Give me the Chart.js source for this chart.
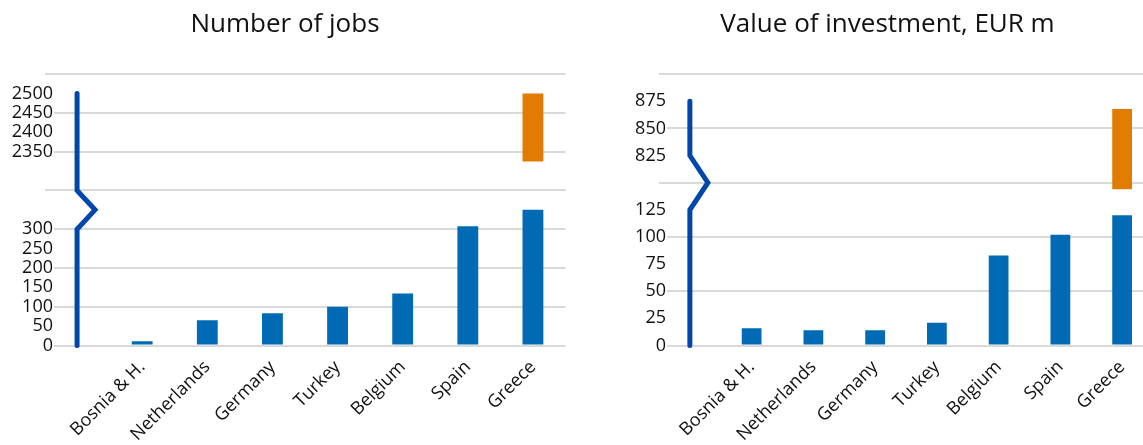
<!DOCTYPE html>
<html>
<head>
<meta charset="utf-8">
<script src="https://cdn.jsdelivr.net/npm/chart.js@4/dist/chart.umd.min.js"></script>
<style>
  html, body { margin: 0; padding: 0; background: #fff; overflow: hidden; }
  #jobs { position: absolute; left: 0; top: 0; }
  #invest { position: absolute; left: 600px; top: 0; }
</style>
</head>
<body>
<canvas id="jobs" width="580" height="470"></canvas>
<canvas id="invest" width="553" height="470"></canvas>
<script>
const countries = ['Bosnia & H.', 'Netherlands', 'Germany', 'Turkey', 'Belgium', 'Spain', 'Greece'];

// part of each bar below the axis break
const jobs = [11, 65, 83, 100, 134, 308, 350];
const investment = [16, 14, 14, 21, 83, 102, 120];

// part above the break (Greece only)
const jobsTop = [null, null, null, null, null, null, [2325, 2500]];
const investmentTop = [null, null, null, null, null, null, [794, 868]];

// tick labels that are shown
const jobsTicks = [0, 50, 100, 150, 200, 250, 300, 2350, 2400, 2450, 2500];
const investmentTicks = [0, 25, 50, 75, 100, 125, 825, 850, 875];

const FONT = "'Open Sans', sans-serif";
const BLUE = '#006ab4';
const ORANGE = '#e07c00';
const GRID = '#d9d9d9';

// zigzag axis line drawn at the empty first category
const brokenAxis = {
    id: 'brokenAxis',
    afterLayout(chart, args, opts) {
        // tick labels sit a little inside the plot area, over the grid lines
        chart.scales.y.right += opts.overhang;
        chart.scales.y2.right += opts.overhang;
    },
    afterDatasetsDraw(chart, args, opts) {
        const { ctx, scales } = chart;
        const x = scales.x.getPixelForValue(0);
        const lo = scales.y, hi = scales.y2;
        ctx.save();
        ctx.strokeStyle = '#0047ab';
        ctx.lineWidth = 5;
        ctx.lineCap = 'round';
        ctx.lineJoin = 'miter';
        ctx.beginPath();
        ctx.moveTo(x, hi.getPixelForValue(opts.top));
        ctx.lineTo(x, hi.getPixelForValue(opts.from));
        ctx.lineTo(x + 18, lo.getPixelForValue(opts.peak));
        ctx.lineTo(x, lo.getPixelForValue(opts.to));
        ctx.lineTo(x, lo.getPixelForValue(0));
        ctx.stroke();
        ctx.restore();
    }
};

function yScale(cfg, min, max, weight) {
    return {
        type: 'linear',
        position: 'left',
        stack: 'v',
        stackWeight: weight,
        min: min,
        max: max,
        afterFit: s => { s.width = cfg.yWidth; },
        border: { display: false },
        grid: {
            drawTicks: false,
            lineWidth: 2,
            color: c => c.tick && (c.tick.value - min) % cfg.gridStep === 0 ? GRID : 'rgba(0,0,0,0)'
        },
        ticks: {
            stepSize: cfg.step,
            autoSkip: false,
            padding: 1,
            color: '#111',
            font: { family: FONT, size: 18 },
            showLabelBackdrop: c => cfg.ticks.includes(c.tick.value),
            backdropColor: '#fff',
            backdropPadding: { left: 2, right: 2, top: 0, bottom: 0 },
            callback: v => cfg.ticks.includes(v) ? v : ''
        }
    };
}

function brokenBarChart(id, cfg) {
    return new Chart(document.getElementById(id), {
        type: 'bar',
        data: {
            labels: [''].concat(countries),
            datasets: [{
                data: [null].concat(cfg.low),
                yAxisID: 'y',
                backgroundColor: BLUE,
                grouped: false,
                barPercentage: 0.32,
                categoryPercentage: 1
            }, {
                data: [null].concat(cfg.top),
                yAxisID: 'y2',
                backgroundColor: ORANGE,
                grouped: false,
                clip: false,
                barPercentage: 0.32,
                categoryPercentage: 1
            }]
        },
        options: {
            responsive: false,
            animation: false,
            layout: { padding: { left: cfg.padLeft, right: cfg.padRight, top: 0, bottom: 0 } },
            plugins: {
                legend: { display: false },
                tooltip: { enabled: false },
                title: {
                    display: true,
                    text: cfg.title,
                    color: '#111',
                    font: { family: FONT, size: 26, weight: 'normal' },
                    padding: { top: 9, bottom: 34 }
                },
                brokenAxis: cfg.brk
            },
            scales: {
                x: {
                    grid: { display: false },
                    border: { display: false },
                    afterFit: s => { s.height = 124.5; },
                    ticks: {
                        autoSkip: false,
                        minRotation: 45,
                        maxRotation: 45,
                        padding: 3,
                        color: '#111',
                        font: { family: FONT, size: 18 }
                    }
                },
                y: yScale(cfg, cfg.lowRange[0], cfg.lowRange[1], cfg.weights[0]),
                y2: yScale(cfg, cfg.topRange[0], cfg.topRange[1], cfg.weights[1])
            }
        },
        plugins: [brokenAxis]
    });
}

brokenBarChart('jobs', {
    title: 'Number of jobs',
    low: jobs,
    top: jobsTop,
    ticks: jobsTicks,
    lowRange: [0, 400],
    topRange: [2250, 2550],
    weights: [4, 3],
    step: 50,
    gridStep: 100,
    yWidth: 40,
    padLeft: 4.5,
    padRight: 14.5,
    brk: { top: 2500, from: 2250, peak: 350, to: 300, overhang: 9.5 }
});

brokenBarChart('invest', {
    title: 'Value of investment, EUR m',
    low: investment,
    top: investmentTop,
    ticks: investmentTicks,
    lowRange: [0, 150],
    topRange: [800, 900],
    weights: [3, 2],
    step: 25,
    gridStep: 50,
    yWidth: 37,
    padLeft: 22,
    padRight: 0,
    brk: { top: 875, from: 825, peak: 150, to: 125, overhang: 8 }
});
</script>
</body>
</html>
